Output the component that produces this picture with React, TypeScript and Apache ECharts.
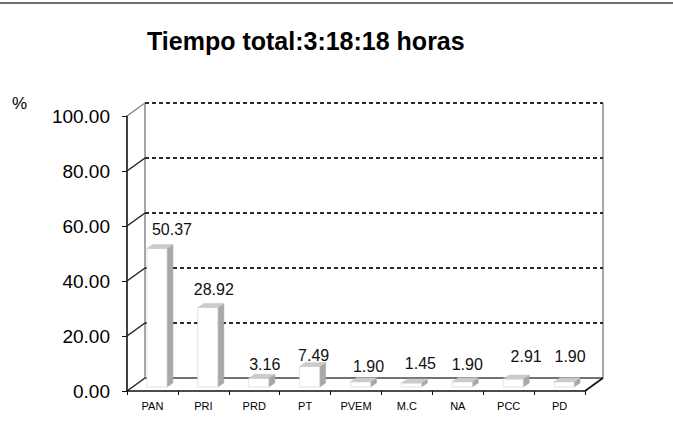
import React, { useEffect, useRef } from "react";
import * as echarts from "echarts";

const categories = ["PAN", "PRI", "PRD", "PT", "PVEM", "M.C", "NA", "PCC", "PD"];
const values = [50.37, 28.92, 3.16, 7.49, 1.9, 1.45, 1.9, 2.91, 1.9];
const yTicks = [0, 20, 40, 60, 80, 100];
const titleText = "Tiempo total:3:18:18 horas";
const unitText = "%";
// per-label nudges (Excel-like label placement)
const labelDx = [19.5, 10.5, 10.5, 8.5, 12.5, 13.5, 9.5, 17.5, 10.5];
const labelDy = [-14.5, -13.5, -10, -6.5, -11, -16, -13, -18, -21];

const FONT = "'Liberation Sans', Arial, sans-serif";
const DX = 18;
const DY = -13;

export default function App() {
  const ref = useRef<HTMLDivElement>(null);
  useEffect(() => {
    if (!ref.current) return;
    const chart = echarts.init(ref.current, null, { renderer: "svg" });

    const wallRender = (params: any, api: any) => {
      const cs = params.coordSys;
      const L = cs.x;
      const R = cs.x + cs.width;
      const children: any[] = [];
      const y0 = api.coord([0, 0])[1];
      const y100 = api.coord([0, 100])[1];
      children.push({
        type: "line",
        shape: { x1: L + DX, y1: y100 + DY, x2: L + DX, y2: y0 + DY },
        style: { stroke: "#8a8a8a", lineWidth: 1.5 },
      });
      children.push({
        type: "line",
        shape: { x1: R + DX, y1: y100 + DY, x2: R + DX, y2: y0 + DY },
        style: { stroke: "#8a8a8a", lineWidth: 1.5 },
      });
      yTicks.forEach((v) => {
        const y = api.coord([0, v])[1];
        if (v === 0) {
          children.push({
            type: "line",
            shape: { x1: L + DX, y1: y + DY, x2: R + DX, y2: y + DY },
            style: { stroke: "#444", lineWidth: 1.5 },
          });
        } else {
          children.push({
            type: "line",
            shape: { x1: L + DX, y1: y + DY, x2: R + DX, y2: y + DY },
            style: { stroke: "#2a2a2a", lineWidth: 1.8, lineDash: [4, 3] },
          });
        }
        children.push({
          type: "line",
          shape: { x1: L, y1: y, x2: L + DX, y2: y + DY },
          style: { stroke: v === 100 ? "#888" : "#222", lineWidth: 1.5 },
        });
      });
      children.push({
        type: "line",
        shape: { x1: R, y1: y0, x2: R + DX, y2: y0 + DY },
        style: { stroke: "#111", lineWidth: 1.6 },
      });
      return { type: "group", children };
    };

    const barRender = (params: any, api: any) => {
      const idx = api.value(0);
      const v = api.value(1);
      const base = api.coord([idx, 0]);
      const top = api.coord([idx, v]);
      const cx = base[0];
      const x0 = cx - 5.5;
      const x1 = x0 + 20;
      const yb = base[1] - 4;
      const yt = top[1] - 4;
      const d = 6;
      const h = -4;
      const i = params.dataIndex;
      return {
        type: "group",
        children: [
          {
            type: "polygon",
            shape: { points: [[x1, yt], [x1 + d, yt + h], [x1 + d, yb + h], [x1, yb]] },
            style: { fill: "#a8a8a8", stroke: "#a0a0a0", lineWidth: 0.5 },
          },
          {
            type: "rect",
            shape: { x: x0, y: yt, width: x1 - x0, height: yb - yt },
            style: { fill: "#ffffff", stroke: "#dcdcdc", lineWidth: 0.8 },
          },
          {
            type: "polygon",
            shape: { points: [[x0, yt], [x0 + d, yt + h], [x1 + d, yt + h], [x1, yt]] },
            style: { fill: "#cbcbcb", stroke: "#c4c4c4", lineWidth: 0.5 },
          },
          {
            type: "text",
            x: cx + labelDx[i],
            y: yt + h + labelDy[i],
            style: {
              text: values[i].toFixed(2),
              fontSize: 16,
              fontFamily: FONT,
              fill: "#111",
              align: "center",
              verticalAlign: "middle",
            },
          },
        ],
      };
    };

    chart.setOption({
      animation: false,
      backgroundColor: "#ffffff",
      title: {
        text: titleText,
        left: 142,
        top: 23,
        textStyle: { fontSize: 25, fontWeight: "bold", fontFamily: FONT, color: "#000" },
      },
      graphic: [
        {
          type: "line",
          shape: { x1: 0, y1: 3, x2: 673, y2: 3 },
          style: { stroke: "#6e6e6e", lineWidth: 2 },
        },
        {
          type: "text",
          left: 12,
          top: 95,
          style: { text: unitText, fontSize: 17, fontFamily: FONT, fill: "#000" },
        },
      ],
      grid: { left: 127, right: 88, top: 116, bottom: 57 },
      xAxis: {
        type: "category",
        data: categories,
        axisLine: { show: true, lineStyle: { color: "#111", width: 1.6 } },
        axisTick: { show: true, alignWithLabel: false, length: 4, lineStyle: { color: "#111" } },
        axisLabel: { fontSize: 11, fontFamily: FONT, color: "#000", margin: 9, interval: 0 },
        splitLine: { show: false },
      },
      yAxis: {
        type: "value",
        min: 0,
        max: 100,
        interval: 20,
        axisLine: { show: true, lineStyle: { color: "#111", width: 1.6 } },
        axisTick: { show: true, length: 5, lineStyle: { color: "#111" } },
        axisLabel: {
          fontSize: 19,
          fontFamily: FONT,
          color: "#000",
          margin: 17,
          formatter: (v: number) => v.toFixed(2),
        },
        splitLine: { show: false },
      },
      series: [
        {
          type: "custom",
          coordinateSystem: "cartesian2d",
          renderItem: wallRender,
          data: [[0, 0]],
          encode: { x: 0, y: 1 },
          clip: false,
          silent: true,
          z: 1,
        },
        {
          type: "custom",
          coordinateSystem: "cartesian2d",
          renderItem: barRender,
          data: categories.map((c, i) => [i, values[i]]),
          encode: { x: 0, y: 1 },
          clip: false,
          z: 3,
        },
      ],
    });
    return () => chart.dispose();
  }, []);
  return (
    <div
      ref={ref}
      style={{ position: "fixed", left: 0, top: 0, width: 673, height: 448, background: "#fff" }}
    />
  );
}
